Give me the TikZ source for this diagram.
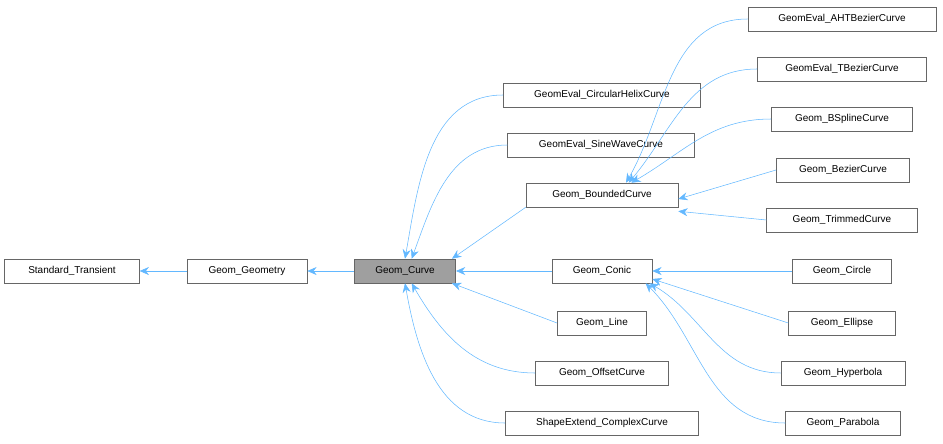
\documentclass[tikz,border=0pt]{standalone}
\usepackage{fontspec}
\setmainfont{Liberation Sans}
\usetikzlibrary{arrows.meta}
\definecolor{edgeblue}{HTML}{63B8FF}

\begin{document}
\begin{tikzpicture}[x=0.75pt,y=-0.75pt,
    cls/.style={draw=gray!80!black,fill=white,minimum height=18pt,inner sep=0pt,
      font=\fontsize{7.5}{9}\selectfont},
    inh/.style={edgeblue,{Stealth[length=7pt,width=6pt,fill=edgeblue]}-}]
    \useasboundingbox (0,0) rectangle (943,443);

    \node[cls,minimum width=101pt] (st) at (72,271) {Standard\_Transient};
    \node[cls,minimum width=90pt] (geo) at (247,271) {Geom\_Geometry};
    \node[cls,minimum width=76pt,fill=gray!75] (curve) at (405,271) {Geom\_Curve};

    \node[cls,minimum width=148pt] (helix) at (602,95) {GeomEval\_CircularHelixCurve};
    \node[cls,minimum width=140pt] (sine) at (601,145) {GeomEval\_SineWaveCurve};
    \node[cls,minimum width=114pt] (bounded) at (602,195) {Geom\_BoundedCurve};
    \node[cls,minimum width=75pt] (conic) at (602,271) {Geom\_Conic};
    \node[cls,minimum width=67pt] (line) at (602,323) {Geom\_Line};
    \node[cls,minimum width=100pt] (offset) at (602,373) {Geom\_OffsetCurve};
    \node[cls,minimum width=145pt] (complex) at (602,423) {ShapeExtend\_ComplexCurve};

    \node[cls,minimum width=141pt] (aht) at (842,19) {GeomEval\_AHTBezierCurve};
    \node[cls,minimum width=127pt] (tbez) at (842,69) {GeomEval\_TBezierCurve};
    \node[cls,minimum width=106pt] (bspl) at (842,119) {Geom\_BSplineCurve};
    \node[cls,minimum width=100pt] (bez) at (843,170) {Geom\_BezierCurve};
    \node[cls,minimum width=113pt] (trim) at (842,220) {Geom\_TrimmedCurve};
    \node[cls,minimum width=74pt] (circ) at (842,271) {Geom\_Circle};
    \node[cls,minimum width=80pt] (ell) at (842,323) {Geom\_Ellipse};
    \node[cls,minimum width=93pt] (hyp) at (843,373) {Geom\_Hyperbola};
    \node[cls,minimum width=86pt] (par) at (843,423) {Geom\_Parabola};

    % inheritance edges
    \draw[inh] (st) -- (geo);
    \draw[inh] (geo) -- (curve);
    \draw[inh] (curve.north) to[out=80,in=180] (helix.west);
    \draw[inh] ([xshift=5pt]curve.north) to[out=70,in=180] (sine.west);
    \draw[inh] ([xshift=-3pt]curve.north east) -- (bounded.south west);
    \draw[inh] (curve) -- (conic);
    \draw[inh] ([xshift=-3pt]curve.south east) -- (line.west);
    \draw[inh] ([xshift=5pt]curve.south) to[out=-60,in=180] (offset.west);
    \draw[inh] (curve.south) to[out=-80,in=180] (complex.west);

    \draw[inh] ([xshift=18pt]bounded.north) to[out=60,in=180] (aht.west);
    \draw[inh] ([xshift=20pt]bounded.north) to[out=50,in=180] (tbez.west);
    \draw[inh] ([xshift=22pt]bounded.north) to[out=30,in=180] (bspl.west);
    \draw[inh] ([yshift=-3pt]bounded.east) -- (bez.west);
    \draw[inh] ([yshift=-3pt]bounded.south east) -- (trim.west);

    \draw[inh] (conic) -- (circ);
    \draw[inh] ([yshift=-6pt]conic.east) -- (ell.west);
    \draw[inh] ([xshift=-2pt]conic.south east) to[out=-30,in=180] (hyp.west);
    \draw[inh] ([xshift=-5pt]conic.south east) to[out=-45,in=180] (par.west);
\end{tikzpicture}
\end{document}
